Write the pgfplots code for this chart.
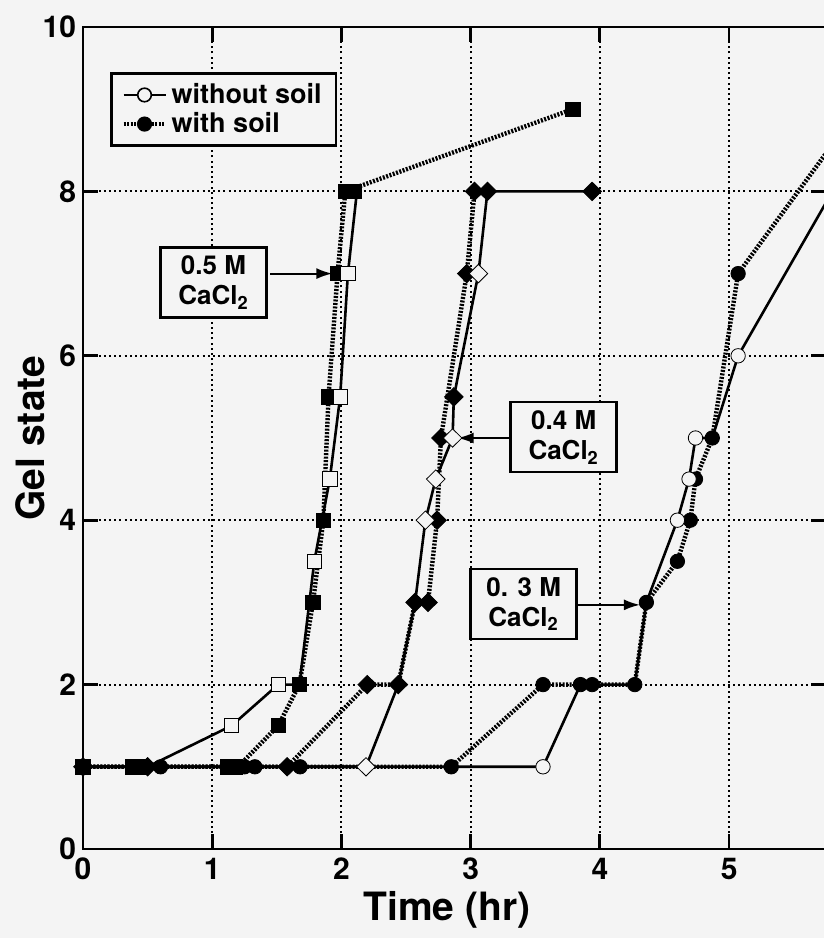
\documentclass[border=0pt]{standalone}
\usepackage{fontspec}
\setmainfont{TeX Gyre Heros}
\usepackage{pgfplots}
\pgfplotsset{compat=1.18}
\usetikzlibrary{arrows.meta}
\definecolor{paper}{RGB}{244,244,244}

\pgfplotsset{
  nosoil/.style={black, line width=1.3pt, mark=none},
  soil/.style={black, line width=2.2pt, dash pattern=on 1pt off 0.75pt, mark=none},
  mk/.style={only marks, mark options={solid, line width=0.8pt}},
  fsq/.style={mk, mark=square*, mark size=3.6pt, mark options={fill=black}},
  osq/.style={mk, mark=square*, mark size=3.6pt, mark options={fill=paper, draw=black}},
  fdi/.style={mk, mark=diamond*, mark size=4.6pt, mark options={fill=black, xscale=1.35}},
  odi/.style={mk, mark=diamond*, mark size=4.6pt, mark options={fill=paper, draw=black, xscale=1.35}},
  fci/.style={mk, mark=*, mark size=3.6pt, mark options={fill=black}},
  oci/.style={mk, mark=*, mark size=3.6pt, mark options={fill=paper, draw=black}},
}

\begin{document}
\begin{tikzpicture}
\fill[paper] (-41.5pt,-44.5pt) rectangle (370.5pt,424.5pt);
\begin{axis}[
  at={(0,0)}, anchor=south west,
  scale only axis, width=371.5pt, height=411pt,
  xmin=0, xmax=5.75, ymin=0, ymax=10,
  xtick={0,...,5}, ytick={0,2,...,10},
  tick align=inside, major tick length=7.5pt,
  every tick/.style={black, line width=1.4pt},
  axis line style={line width=1.4pt},
  grid=major,
  major grid style={black, line width=1pt, dash pattern=on 1pt off 1.6pt},
  tick label style={font=\bfseries\fontsize{15}{15}\selectfont},
  xticklabel style={yshift=-1pt},
  /pgf/number format/assume math mode=true,
  xlabel={Time (hr)}, ylabel={Gel state},
  label style={font=\bfseries\fontsize{19.5}{20}\selectfont},
  xlabel style={at={([yshift=-30.5pt]axis description cs:0.49,0)}, anchor=center},
  ylabel style={at={([xshift=-26.5pt]axis description cs:0,0.5)}, anchor=center},
  legend image code/.code={\draw[mark repeat=2, mark phase=2, #1]
    plot coordinates {(0pt,0pt) (10.5pt,0pt) (21pt,0pt)};},
  legend style={at={(axis cs:0.21,9.45)}, anchor=north west,
    draw=black, line width=1.2pt, fill=paper,
    font=\bfseries\fontsize{13.5}{15}\selectfont,
    inner xsep=5pt, inner ysep=3pt, row sep=-1pt,
    cells={anchor=west}},
]

% legend entries
\addlegendimage{nosoil, mark=*, mark size=3.4pt, mark options={solid, fill=paper, draw=black, line width=0.8pt}}
\addlegendentry{without soil}
\addlegendimage{soil, mark=*, mark size=3.4pt, mark options={solid, fill=black, line width=0.8pt}}
\addlegendentry{with soil}

% 0.5 M CaCl2
\addplot[nosoil, forget plot] coordinates {
  (0,1) (0.5,1) (1.15,1.5) (1.51,2) (1.675,2) (1.79,3.5) (1.91,4.5)
  (1.99,5.5) (2.05,7) (2.12,8)};
\addplot[soil, forget plot] coordinates {
  (0,1) (1.2,1) (1.51,1.5) (1.675,2) (1.78,3) (1.86,4) (1.90,5.5)
  (1.97,7) (2.03,8) (3.79,9)};

% 0.4 M CaCl2
\addplot[nosoil, forget plot] coordinates {
  (0,1) (2.19,1) (2.44,2) (2.57,3) (2.65,4) (2.73,4.5) (2.86,5)
  (2.87,5.5) (3.06,7) (3.13,8) (3.94,8)};
\addplot[soil, forget plot] coordinates {
  (0,1) (1.58,1) (2.2,2) (2.44,2) (2.57,3) (2.67,3) (2.74,4) (2.77,5)
  (2.97,7) (3.03,8)};

% 0.3 M CaCl2
\addplot[nosoil, forget plot] coordinates {
  (0,1) (3.56,1) (3.85,2) (4.27,2) (4.36,3) (4.6,4) (4.69,4.5) (4.74,5)
  (4.87,5) (5.07,6) (5.8,8)};
\addplot[soil, forget plot] coordinates {
  (0,1) (2.85,1) (3.56,2) (3.94,2) (4.27,2) (4.36,3) (4.6,3.5) (4.7,4)
  (4.74,4.5) (4.87,5) (5.07,7) (6,9)};

% markers
\addplot[fsq, forget plot] coordinates {
  (0,1) (0.38,1) (0.45,1) (1.12,1) (1.18,1) (1.51,1.5) (1.675,2) (1.78,3)
  (1.86,4) (1.90,5.5) (1.97,7) (2.03,8) (2.1,8) (3.79,9)};
\addplot[osq, forget plot] coordinates {
  (1.15,1.5) (1.51,2) (1.79,3.5) (1.91,4.5) (1.99,5.5) (2.05,7)};
\addplot[fdi, forget plot] coordinates {
  (0,1) (0.5,1) (1.58,1) (2.2,2) (2.44,2) (2.57,3) (2.67,3) (2.74,4)
  (2.77,5) (2.87,5.5) (2.97,7) (3.03,8) (3.13,8) (3.94,8)};
\addplot[odi, forget plot] coordinates {
  (2.19,1) (2.65,4) (2.73,4.5) (2.86,5) (3.06,7)};
\addplot[fci, forget plot] coordinates {
  (0,1) (0.6,1) (1.25,1) (1.33,1) (1.68,1) (2.85,1) (3.56,2) (3.85,2)
  (3.94,2) (4.27,2) (4.36,3) (4.6,3.5) (4.7,4) (4.74,4.5) (4.87,5) (5.07,7)};
\addplot[oci, forget plot] coordinates {
  (3.56,1) (4.6,4) (4.69,4.5) (4.74,5) (5.07,6)};

% concentration labels
\tikzset{
  box/.style={draw=black, line width=1.2pt, fill=paper, align=center,
    font=\bfseries\fontsize{13}{15}\selectfont,
    minimum width=53pt, minimum height=35pt, inner sep=2pt},
  arr/.style={black, line width=1pt, -{Latex[length=8pt, width=5.5pt]}},
}
\node[box] at (axis cs:1.01,6.89) {0.5 M\\CaCl\textsubscript{2}};
\draw[arr] (axis cs:1.45,7.0) -- (axis cs:1.93,7.0);
\node[box] at (axis cs:3.72,5.01) {0.4 M\\CaCl\textsubscript{2}};
\draw[arr] (axis cs:3.318,5.0) -- (axis cs:2.9,5.0);
\node[box] at (axis cs:3.41,2.98) {0. 3 M\\CaCl\textsubscript{2}};
\draw[arr] (axis cs:3.82,2.97) -- (axis cs:4.31,2.97);
\end{axis}
\pgfresetboundingbox
\useasboundingbox (-41.5pt,-44.5pt) rectangle (370.5pt,424.5pt);
\end{tikzpicture}
\end{document}
